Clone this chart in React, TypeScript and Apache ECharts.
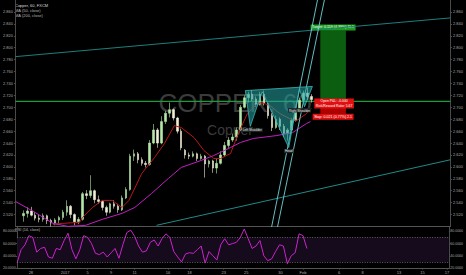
import React, { useEffect, useRef } from "react";
import * as echarts from "echarts";

// ---- x scale: bar index (each bar ~ 8 hours) ----
const X_MAX = 110.25;

// tick labels on the time axis (bar index positions)
const xTickPos = [3.5, 12.25, 18, 24, 30, 38.5, 44, 52.75, 58.5, 67.25, 73, 82.25, 88.25, 97.5, 103.5, 109.75];
const xTickLabels = ["28", "2017", "5", "9", "11", "16", "18", "23", "25", "30", "Feb", "6", "8", "13", "15", "17"];

// ---- candles: [open, close, low, high], first at bar index candleStart ----
const candleStart = 2;
const candles: number[][] = [
  [2.518, 2.522, 2.508, 2.527],
  [2.522, 2.526, 2.515, 2.532],
  [2.526, 2.519, 2.517, 2.533],
  [2.519, 2.514, 2.510, 2.524],
  [2.514, 2.512, 2.507, 2.520],
  [2.512, 2.518, 2.508, 2.522],
  [2.518, 2.510, 2.504, 2.520],
  [2.510, 2.506, 2.500, 2.513],
  [2.506, 2.511, 2.502, 2.514],
  [2.511, 2.515, 2.505, 2.518],
  [2.515, 2.524, 2.511, 2.528],
  [2.524, 2.534, 2.518, 2.544],
  [2.534, 2.520, 2.514, 2.536],
  [2.520, 2.508, 2.502, 2.522],
  [2.508, 2.512, 2.504, 2.516],
  [2.512, 2.555, 2.510, 2.558],
  [2.555, 2.552, 2.546, 2.561],
  [2.552, 2.560, 2.548, 2.586],
  [2.560, 2.545, 2.539, 2.562],
  [2.545, 2.542, 2.538, 2.552],
  [2.542, 2.532, 2.527, 2.544],
  [2.532, 2.524, 2.518, 2.535],
  [2.524, 2.538, 2.522, 2.540],
  [2.538, 2.534, 2.530, 2.544],
  [2.534, 2.528, 2.523, 2.538],
  [2.528, 2.548, 2.526, 2.552],
  [2.548, 2.562, 2.546, 2.566],
  [2.562, 2.618, 2.560, 2.622],
  [2.618, 2.622, 2.610, 2.629],
  [2.622, 2.612, 2.606, 2.625],
  [2.612, 2.606, 2.602, 2.616],
  [2.606, 2.604, 2.599, 2.610],
  [2.604, 2.640, 2.602, 2.645],
  [2.640, 2.662, 2.638, 2.672],
  [2.662, 2.640, 2.632, 2.665],
  [2.640, 2.676, 2.638, 2.685],
  [2.676, 2.690, 2.672, 2.694],
  [2.690, 2.696, 2.683, 2.708],
  [2.696, 2.682, 2.678, 2.698],
  [2.682, 2.660, 2.656, 2.684],
  [2.660, 2.632, 2.628, 2.664],
  [2.628, 2.620, 2.614, 2.630],
  [2.620, 2.618, 2.613, 2.624],
  [2.618, 2.622, 2.616, 2.626],
  [2.622, 2.614, 2.610, 2.624],
  [2.614, 2.618, 2.612, 2.622],
  [2.618, 2.605, 2.582, 2.620],
  [2.605, 2.610, 2.599, 2.612],
  [2.610, 2.598, 2.590, 2.612],
  [2.598, 2.606, 2.589, 2.614],
  [2.606, 2.620, 2.604, 2.626],
  [2.620, 2.636, 2.618, 2.642],
  [2.636, 2.645, 2.632, 2.650],
  [2.645, 2.650, 2.642, 2.656],
  [2.650, 2.662, 2.644, 2.666],
  [2.662, 2.700, 2.660, 2.704],
  [2.700, 2.716, 2.698, 2.720],
  [2.716, 2.722, 2.708, 2.726],
  [2.722, 2.714, 2.710, 2.729],
  [2.714, 2.705, 2.701, 2.718],
  [2.705, 2.722, 2.703, 2.726],
  [2.722, 2.706, 2.703, 2.728],
  [2.706, 2.686, 2.681, 2.708],
  [2.686, 2.666, 2.660, 2.690],
  [2.666, 2.680, 2.664, 2.686],
  [2.680, 2.668, 2.662, 2.683],
  [2.668, 2.656, 2.650, 2.672],
  [2.656, 2.662, 2.644, 2.665],
  [2.662, 2.678, 2.660, 2.682],
  [2.678, 2.694, 2.676, 2.698],
  [2.694, 2.712, 2.692, 2.716],
  [2.712, 2.724, 2.708, 2.728],
  [2.724, 2.718, 2.712, 2.733],
  [2.718, 2.713, 2.708, 2.722],
];

// ---- moving averages: [bar index, price] ----
const ma50Points = [
  [9.5, 2.5036], [12, 2.5053], [16.25, 2.507], [17, 2.5153], [19.5, 2.532], [22, 2.5438],
  [24.5, 2.5438], [26.25, 2.5354], [27, 2.532], [28.75, 2.5438], [32, 2.589], [35.25, 2.6158],
  [37.75, 2.6392], [40.25, 2.6693], [42, 2.666], [45.25, 2.6492], [47.75, 2.6275], [50.25, 2.6141],
  [52, 2.6141], [54.5, 2.6224], [56.25, 2.6526], [58.75, 2.6894], [61.25, 2.7061], [62.5, 2.7078],
  [64.5, 2.7028], [67, 2.6894], [69.5, 2.681], [71.25, 2.6777], [73.75, 2.6894], [75, 2.6978],
];
const ma200Points = [
  [0, 2.542], [4.5, 2.5254], [9.5, 2.5053], [13.25, 2.5002], [17.75, 2.5019], [22, 2.512],
  [27, 2.522], [30.25, 2.532], [34.5, 2.5555], [38.75, 2.5806], [42, 2.599], [47, 2.6107],
  [50.25, 2.6191], [54.5, 2.6325], [57, 2.6409], [60.25, 2.6476], [66.25, 2.6526], [70.25, 2.6576],
  [73.75, 2.6727], [74.75, 2.676],
];

// ---- RSI (14) per bar, from bar 0 ----
const rsiStart = 0;
const rsiValues = [
  29, 50, 58, 73, 70, 46, 52, 54, 38, 36, 52, 50, 65, 77, 50, 35, 50, 73, 70, 60,
  44, 42, 46, 38, 45, 52, 36, 58, 78, 82, 72, 56, 46, 48, 62, 66, 56, 68, 76, 70,
  47, 38, 30, 43, 45, 44, 50, 56, 28, 47, 40, 33, 58, 68, 58, 60, 62, 70, 84, 68,
  52, 56, 65, 40, 32, 35, 47, 58, 56, 27, 40, 45, 76, 73, 52,
];

// ---- trade (long position tool) ----
const entryPrice = 2.71;
const targetPrice = 2.829;
const stopPrice = 2.689;
const tradeX = [77.25, 83.75];
const targetText = "Target: 0.119 (4.39%) 11.9";
const stopText = "Stop: 0.021 (0.77%) 2.1";
const pnlText = "Open P&L: -0.000\nRisk/Reward Ratio: 5.67";
const pnlAnchor = [80.75, 2.7065];

// price tags on both price scales
const axisTags = [
  { value: 2.829, bg: "#1fae1f" },
  { value: 2.72, bg: "#5a5a5a" },
  { value: 2.71, bg: "#19b819" },
  { value: 2.701, bg: "#19c419" },
  { value: 2.689, bg: "#e81010" },
];

// ---- drawn lines: [bar index, price] ----
const entryLine = [[0, entryPrice], [X_MAX, entryPrice]];
const channelUpper = [[0, 2.785], [110.25, 2.85]];
const channelLower = [[35.75, 2.502], [110.25, 2.612]];
const steepA = [[64.9, 2.499], [76.6, 2.882]];
const steepB = [[66.4, 2.499], [78.35, 2.882]];

// inverse head & shoulders pattern points
const hsPoints = [
  [58.25, 2.728], [59.5, 2.668], [62.5, 2.726], [69.25, 2.6325],
  [72, 2.731], [73.25, 2.701], [75.25, 2.735],
];
const hsLabels = ["", "Left Shoulder", "", "Head", "", "Right Shoulder", ""];
const hsLabelShift = [0, 2, 0, 0, 0, -5, 0];

const FONT = "Liberation Sans";
const axisLabelStyle = { fontSize: 4, color: "#a8a8a8", fontFamily: FONT };

function tagLabel(bg: string, position: string) {
  return {
    show: true,
    position,
    formatter: (p: any) => Number(p.value).toFixed(3),
    backgroundColor: bg,
    color: "#fff",
    fontSize: 4,
    fontFamily: FONT,
    padding: [1, 1],
    distance: 2,
  };
}

function tradeLabel(bg: string, position: string, text: string, fontSize = 3.6) {
  return {
    show: true,
    position,
    formatter: text,
    backgroundColor: bg,
    color: "#fff",
    fontSize,
    lineHeight: fontSize + 0.8,
    fontFamily: FONT,
    padding: [0.8, 1.5],
    distance: 0,
  };
}

function lineSeries(data: number[][], color: string, width = 1, z = 4) {
  return {
    type: "line",
    xAxisIndex: 0,
    yAxisIndex: 0,
    data,
    showSymbol: false,
    symbol: "none",
    silent: true,
    clip: true,
    lineStyle: { color, width },
    z,
  };
}

export default function App() {
  const ref = useRef<HTMLDivElement>(null);

  useEffect(() => {
    if (!ref.current) return;
    const chart = echarts.init(ref.current, null, { renderer: "svg" });

    const xLabelFormatter = (v: number) => {
      const i = xTickPos.findIndex((p) => Math.abs(p - v) < 0.01);
      return i >= 0 ? xTickLabels[i] : "";
    };

    const priceAxis = (position: string) => ({
      type: "value",
      gridIndex: 0,
      position,
      min: 2.5,
      max: 2.88,
      interval: 0.02,
      axisLine: { show: true, onZero: false, lineStyle: { color: "#4a4a4a" } },
      axisTick: { show: true, length: 1.5, lineStyle: { color: "#4a4a4a" } },
      axisLabel: {
        ...axisLabelStyle,
        margin: 2.5,
        showMinLabel: false,
        showMaxLabel: false,
        formatter: (v: number) => v.toFixed(3),
      },
      splitLine: { show: false },
    });

    const rsiAxis = (position: string) => ({
      type: "value",
      gridIndex: 1,
      position,
      min: 20,
      max: 88,
      interval: 20,
      axisLine: { show: true, onZero: false, lineStyle: { color: "#4a4a4a" } },
      axisTick: { show: true, length: 1.5, lineStyle: { color: "#4a4a4a" } },
      axisLabel: {
        ...axisLabelStyle,
        fontSize: 3.5,
        margin: 1.5,
        showMaxLabel: false,
        formatter: (v: number) => v.toFixed(4),
      },
      splitLine: { show: false },
    });

    const option: any = {
      animation: false,
      backgroundColor: "#000",
      grid: [
        { left: 12, right: 13, top: 0, height: 226.5 },
        { left: 12, right: 13, top: 226.5, height: 41.5 },
      ],
      xAxis: [
        {
          type: "value",
          gridIndex: 0,
          min: 0,
          max: X_MAX,
          axisLine: { show: true, onZero: false, lineStyle: { color: "#555" } },
          axisTick: { show: false },
          axisLabel: { show: false },
          splitLine: { show: false },
        },
        {
          type: "value",
          gridIndex: 1,
          min: 0,
          max: X_MAX,
          axisLine: { show: true, onZero: false, lineStyle: { color: "#555" } },
          axisTick: { show: true, length: 1.5, customValues: xTickPos, lineStyle: { color: "#555" } },
          axisLabel: { ...axisLabelStyle, margin: 2, customValues: xTickPos, formatter: xLabelFormatter },
          splitLine: { show: false },
        },
      ],
      yAxis: [priceAxis("left"), priceAxis("right"), rsiAxis("left"), rsiAxis("right")],
      graphic: [
        {
          type: "text", x: 235, y: 103, silent: true, z: 0,
          style: { text: "COPPER, 60", fill: "#3b3b3b", fontSize: 26, fontFamily: FONT, align: "center", verticalAlign: "middle", textAlign: "center", textVerticalAlign: "middle" },
        },
        {
          type: "text", x: 230, y: 130, silent: true, z: 0,
          style: { text: "Copper", fill: "#3b3b3b", fontSize: 14, fontFamily: FONT, align: "center", verticalAlign: "middle", textAlign: "center", textVerticalAlign: "middle" },
        },
        { type: "text", x: 15, y: 3.5, silent: true, style: { text: "Copper, 60, FXCM", fill: "#dcdcdc", fontSize: 4, fontFamily: FONT } },
        { type: "text", x: 15, y: 8.5, silent: true, style: { text: "MA (50, close)", fill: "#b8b8b8", fontSize: 4, fontFamily: FONT } },
        { type: "text", x: 15, y: 13.5, silent: true, style: { text: "MA (200, close)", fill: "#b8b8b8", fontSize: 4, fontFamily: FONT } },
        { type: "text", x: 15, y: 228.2, silent: true, style: { text: "RSI (14, close)", fill: "#b8b8b8", fontSize: 3.8, fontFamily: FONT } },
      ],
      series: [
        lineSeries(channelUpper, "#1c7f7f", 1),
        lineSeries(channelLower, "#1f8a8a", 1),
        lineSeries(entryLine, "#1d9a3c", 1.2, 2.5),
        {
          type: "candlestick",
          xAxisIndex: 0,
          yAxisIndex: 0,
          data: candles.map((c, i) => [candleStart + i, c[0], c[1], c[2], c[3]]),
          encode: { x: 0, y: [1, 2, 3, 4] },
          barWidth: 2,
          silent: true,
          itemStyle: {
            color: "#b5e8a8",
            color0: "#f2eed6",
            borderColor: "#b5e8a8",
            borderColor0: "#f2eed6",
            borderWidth: 0.6,
          },
          z: 3,
          markArea: {
            silent: true,
            data: [
              [
                { xAxis: tradeX[0], yAxis: entryPrice, itemStyle: { color: "#0b5d10" }, label: tradeLabel("#1e9e1e", "top", targetText) },
                { xAxis: tradeX[1], yAxis: targetPrice },
              ],
              [
                { xAxis: tradeX[0], yAxis: stopPrice, itemStyle: { color: "#b00000" }, label: tradeLabel("#e01010", "bottom", stopText) },
                { xAxis: tradeX[1], yAxis: entryPrice },
              ],
            ],
          },
          markLine: {
            silent: true,
            symbol: "none",
            lineStyle: { color: "rgba(0,0,0,0)", width: 0, opacity: 0 },
            data: axisTags.flatMap((t) => [
              { yAxis: t.value, label: tagLabel(t.bg, "end") },
              { yAxis: t.value, label: tagLabel(t.bg, "start") },
            ]),
          },
          markPoint: {
            silent: true,
            z: 10,
            data: [
              {
                coord: pnlAnchor,
                symbol: "rect",
                symbolSize: [0.1, 0.1],
                itemStyle: { color: "rgba(0,0,0,0)" },
                label: { ...tradeLabel("#e01010", "inside", pnlText, 3.4), align: "center" },
              },
            ],
          },
        },
        lineSeries(ma50Points, "#b81818", 1),
        lineSeries(ma200Points, "#c21fc2", 1),
        {
          type: "custom",
          xAxisIndex: 0,
          yAxisIndex: 0,
          silent: true,
          z: 5,
          data: [hsPoints[0]],
          renderItem: (_params: any, api: any) => {
            const pts = hsPoints.map((p) => api.coord(p));
            const children: any[] = [
              {
                type: "polygon",
                shape: { points: pts },
                style: { fill: "rgba(38,166,166,0.55)", stroke: "#3ab8b8", lineWidth: 0.8 },
              },
            ];
            hsLabels.forEach((t, i) => {
              if (!t) return;
              children.push({
                type: "text",
                x: pts[i][0] + hsLabelShift[i],
                y: pts[i][1] + 1.5,
                style: {
                  text: t,
                  fill: "#ececec",
                  fontSize: 3.2,
                  fontFamily: FONT,
                  align: "center",
                  verticalAlign: "top",
                  backgroundColor: "#1d2424",
                  padding: [0.6, 1],
                },
              });
            });
            return { type: "group", children };
          },
        },
        lineSeries(steepA, "#6fd3d6", 0.9),
        lineSeries(steepB, "#6fd3d6", 0.9),
        {
          type: "line",
          xAxisIndex: 1,
          yAxisIndex: 2,
          data: rsiValues.map((r, i) => [rsiStart + i, r]),
          showSymbol: false,
          symbol: "none",
          silent: true,
          lineStyle: { color: "#cc22cc", width: 1 },
          z: 4,
          markArea: {
            silent: true,
            itemStyle: { color: "#160a1d" },
            data: [[{ xAxis: 0, yAxis: 30 }, { xAxis: X_MAX, yAxis: 70 }]],
          },
          markLine: {
            silent: true,
            symbol: "none",
            label: { show: false },
            lineStyle: { color: "#7a7a7a", type: [1, 1.5], width: 0.8 },
            data: [{ yAxis: 70 }, { yAxis: 30 }],
          },
        },
      ],
    };

    chart.setOption(option);
    return () => chart.dispose();
  }, []);

  return (
    <div
      ref={ref}
      style={{ position: "fixed", left: 0, top: 0, width: 466, height: 275, background: "#000" }}
    />
  );
}
